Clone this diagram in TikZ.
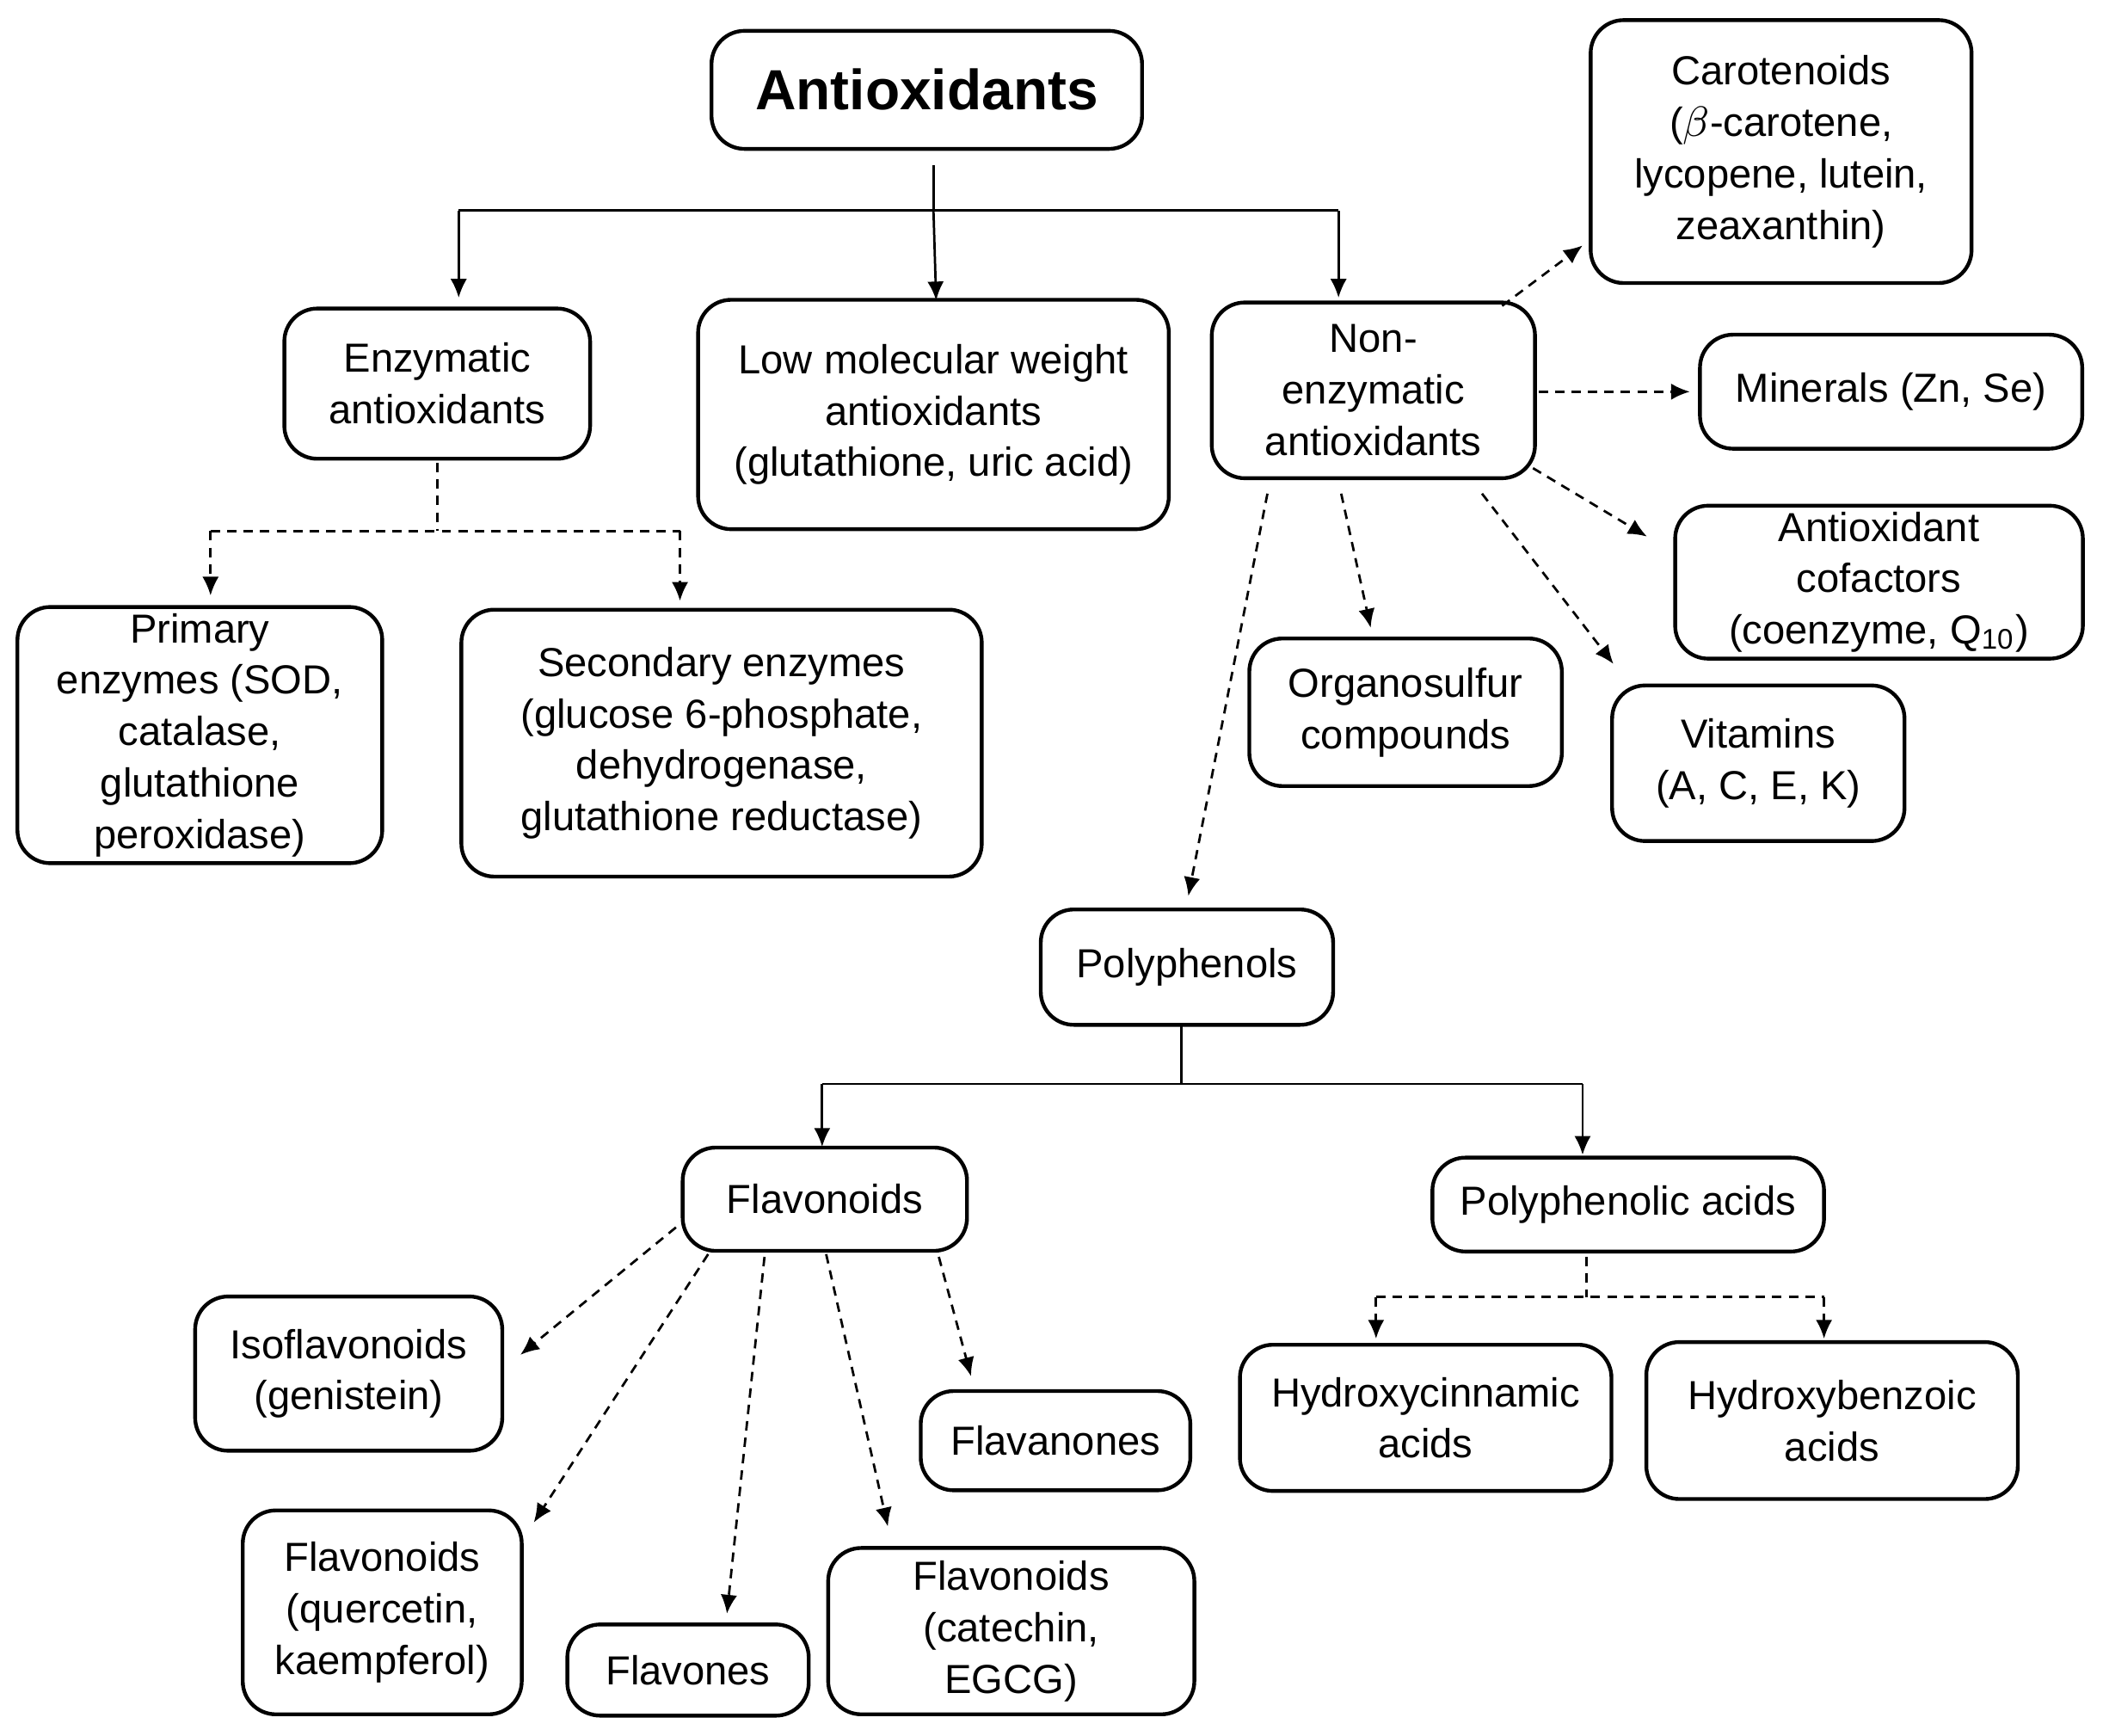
\documentclass[tikz,border=0pt]{standalone}
\usepackage{fontspec}
\setmainfont{Liberation Sans}
\usetikzlibrary{arrows.meta}
\begin{document}
\begin{tikzpicture}[x=0.01cm,y=-0.01cm,
 box/.style={draw,line width=0.8pt,rounded corners=7pt,align=center,inner sep=0pt,font=\fontsize{8.6}{10.9}\selectfont},
 sol/.style={line width=0.5pt,-{Latex[length=4pt,width=3.5pt]}},
 dsh/.style={line width=0.5pt,dash pattern=on 2pt off 1.5pt,-{Latex[length=4pt,width=3.5pt]}},
 ln/.style={line width=0.5pt},
 dln/.style={line width=0.5pt,dash pattern=on 2pt off 1.5pt}]
\useasboundingbox (0,0) rectangle (1568,1294);
\newcommand\bx[6]{\node[box,minimum width=#4*0.01cm,minimum height=#5*0.01cm] (#1) at (#2,#3) {#6};}
\bx{anti}{691}{67}{321}{88}{\fontsize{12}{14}\selectfont\bfseries Antioxidants}
\bx{enz}{326}{286}{228}{112}{Enzymatic\\antioxidants}
\bx{low}{696}{309}{351}{171}{Low molecular weight\\antioxidants\\(glutathione, uric acid)}
\bx{non}{1024}{291}{241}{131}{Non-\\enzymatic\\antioxidants}
\bx{car}{1328}{113}{284}{196}{Carotenoids\\($\beta$-carotene,\\lycopene, lutein,\\zeaxanthin)}
\bx{min}{1410}{292}{285}{85}{Minerals (Zn, Se)}
\bx{cof}{1401}{434}{304}{114}{Antioxidant\\cofactors\\(coenzyme, Q\textsubscript{10})}
\bx{pri}{149}{548}{272}{191}{Primary\\enzymes (SOD,\\catalase,\\glutathione\\peroxidase)}
\bx{sec}{538}{554}{388}{199}{Secondary enzymes\\(glucose 6-phosphate,\\dehydrogenase,\\glutathione reductase)}
\bx{org}{1048}{531}{233}{110}{Organosulfur\\compounds}
\bx{vit}{1311}{569}{218}{116}{Vitamins\\(A, C, E, K)}
\bx{poly}{885}{721}{218}{86}{Polyphenols}
\bx{flav}{615}{894}{212}{77}{Flavonoids}
\bx{pacid}{1214}{898}{292}{70}{Polyphenolic acids}
\bx{iso}{260}{1024}{229}{115}{Isoflavonoids\\(genistein)}
\bx{flvn}{787}{1074}{201}{74}{Flavanones}
\bx{hcin}{1063}{1057}{277}{109}{Hydroxycinnamic\\acids}
\bx{hben}{1366}{1059}{277}{117}{Hydroxybenzoic\\acids}
\bx{fq}{285}{1202}{208}{152}{Flavonoids\\(quercetin,\\kaempferol)}
\bx{flvs}{513}{1245}{180}{68}{Flavones}
\bx{fc}{754}{1216}{273}{124}{Flavonoids\\(catechin,\\EGCG)}
% solid top tree
\coordinate (a0) at (696,123); \coordinate (a1) at (696,157);
\coordinate (aL) at (342,157); \coordinate (aR) at (998,157);
\draw[ln] (a0)--(a1) (aL)--(aR);
\draw[sol] (aL)--(342,222); \draw[sol] (a1)--(698,224); \draw[sol] (aR)--(998,222);
% enzymatic
\coordinate (e0) at (326,345); \coordinate (e1) at (326,396);
\coordinate (eL) at (157,396); \coordinate (eR) at (507,396);
\draw[dln] (e0)--(e1) (eL)--(eR);
\draw[dsh] (eL)--(157,444); \draw[dsh] (eR)--(507,448);
% non-enzymatic
\draw[dsh] (1120,228)--(1180,183);
\draw[dsh] (1147,292)--(1260,292);
\draw[dsh] (1143,349)--(1228,400);
\draw[dsh] (1105,368)--(1203,495);
\draw[dsh] (1000,368)--(1022,468);
\draw[dsh] (945,368)--(886,668);
% polyphenols
\coordinate (p0) at (881,764); \coordinate (p1) at (881,808);
\coordinate (pL) at (613,808); \coordinate (pR) at (1180,808);
\draw[ln] (p0)--(p1) (pL)--(pR);
\draw[sol] (pL)--(613,855); \draw[sol] (pR)--(1180,861);
% flavonoids
\draw[dsh] (504,915)--(388,1010);
\draw[dsh] (528,935)--(398,1135);
\draw[dsh] (570,937)--(542,1203);
\draw[dsh] (616,935)--(662,1138);
\draw[dsh] (700,937)--(724,1026);
% polyphenolic acids
\coordinate (q0) at (1183,937); \coordinate (q1) at (1183,967);
\coordinate (qL) at (1026,967); \coordinate (qR) at (1360,967);
\draw[dln] (q0)--(q1) (qL)--(qR);
\draw[dsh] (qL)--(1026,998); \draw[dsh] (qR)--(1360,998);
\end{tikzpicture}
\end{document}
